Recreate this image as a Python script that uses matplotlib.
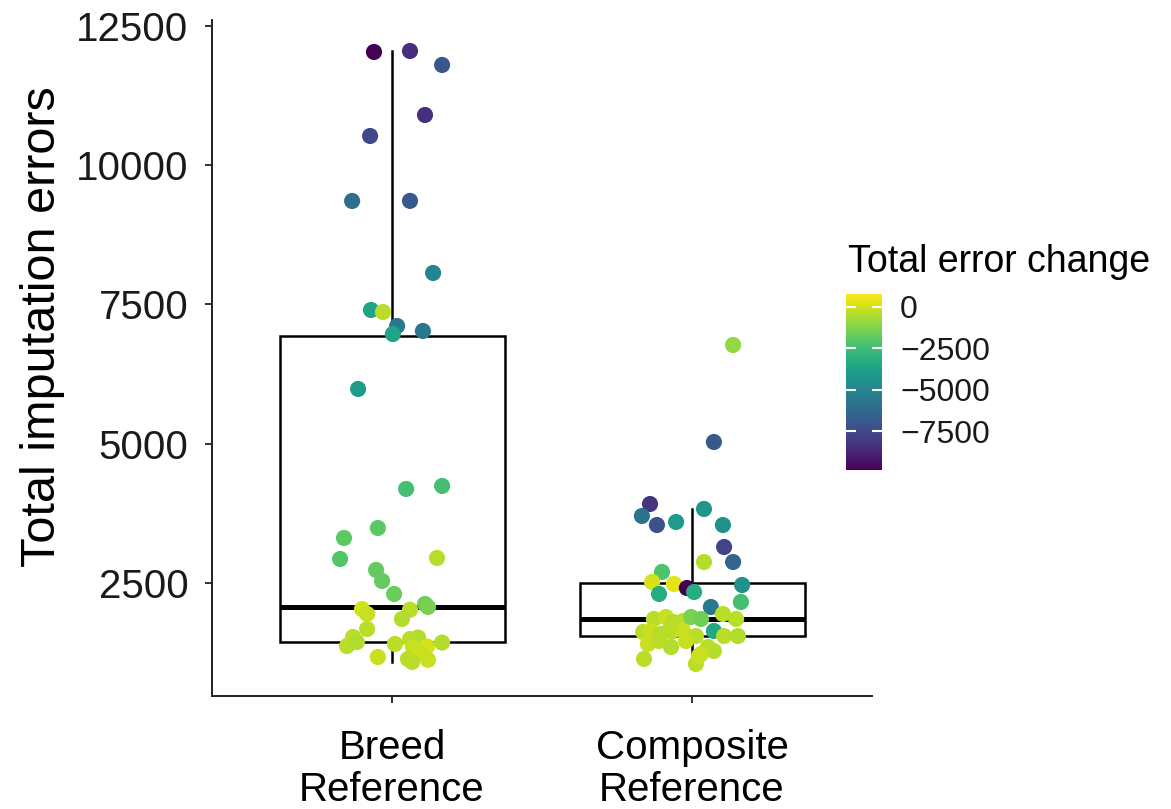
import matplotlib
matplotlib.use("Agg")
import matplotlib.pyplot as plt
from matplotlib.colors import Normalize
import numpy as np

plt.rcParams['font.family'] = ['Liberation Sans', 'DejaVu Sans']

# ---- data -------------------------------------------------------------
categories = ["Breed\nReference", "Composite\nReference"]

# box summaries (lower whisker, Q1, median, Q3, upper whisker)
box_whislo = [1080, 1030]
box_q1 = [1441, 1554]
box_med = [2070, 1854]
box_q3 = [6940, 2500]
box_whishi = [12050, 3830]

# Breed reference runs
breed_errors = [12033, 12051, 11800, 10902, 10525, 9358, 9360, 8066, 7401, 7365,
                7114, 6970, 7024, 5983, 4188, 4242, 3487, 3308, 2931, 2949,
                2734, 2536, 2303, 2123, 2069, 2033, 1943, 2020, 1854, 1674,
                1530, 1369, 1441, 1171, 1405, 1494, 1520, 1351, 1136, 1360,
                1120, 1430, 1261, 1082]
breed_change = [-9850, -8400, -6980, -8360, -7510, -6020, -6870, -5070, -3680, -300,
                -5600, -3680, -5600, -4000, -2410, -2410, -1880, -1880, -2090, -400,
                -1770, -1770, -1660, -1560, -1350, 50, -100, -300, -500, -300,
                -300, -300, -450, -100, -300, -350, -450, -100, -300, 80,
                -100, -450, -100, -300]
breed_jitter = [-0.060, 0.060, 0.167, 0.110, -0.073, -0.133, 0.060, 0.137, -0.070, -0.030,
                0.017, 0.003, 0.103, -0.113, 0.047, 0.167, -0.047, -0.160, -0.173, 0.150,
                -0.053, -0.033, 0.007, 0.110, 0.120, -0.100, -0.083, 0.060, 0.033, -0.083,
                -0.130, -0.150, -0.117, -0.047, 0.010, 0.060, 0.087, 0.070, 0.053, 0.117,
                0.120, 0.167, 0.093, 0.067]

# Composite reference runs
comp_errors = [6773, 5031, 3918, 3703, 3541, 3595, 3829, 3541, 3146, 2877,
               2877, 2698, 2518, 2482, 2410, 2464, 2338, 2303, 2159, 2069,
               1943, 1854, 1638, 1854, 1890, 1800, 1818, 1890, 1854, 1620,
               1638, 1584, 1620, 1638, 1548, 1548, 1548, 1405, 1458, 1351,
               1458, 1351, 1279, 1225, 1136, 1046, 1189, 1728]
comp_change = [-950, -6870, -8250, -5810, -7190, -4000, -4320, -4530, -7720, -6450,
               -400, -2200, 150, 350, -9850, -4530, -3260, -3260, -2410, -5600,
               -350, -350, -3470, -300, -100, -450, -300, -1350, -1560, -300,
               -100, -450, -300, -100, -350, -300, -450, -100, -300, -450,
               -100, -300, -450, -100, -300, -300, -100, -300]
comp_jitter = [0.137, 0.073, -0.140, -0.167, -0.117, -0.053, 0.040, 0.103, 0.107, 0.137,
               0.040, -0.100, -0.133, -0.060, -0.017, 0.167, 0.007, -0.110, 0.163, 0.063,
               0.103, 0.147, 0.073, -0.127, -0.087, -0.063, -0.030, -0.003, 0.030, -0.163,
               -0.137, -0.103, -0.070, -0.030, 0.013, 0.107, 0.153, -0.147, -0.110, -0.070,
               -0.020, 0.053, 0.073, 0.030, -0.160, 0.013, 0.023, -0.070]

change_min, change_max = -9850, 780
y_ticks = [2500, 5000, 7500, 10000, 12500]
cbar_ticks = [0, -2500, -5000, -7500]

# ---- figure -----------------------------------------------------------
W, H = 1171, 809
fig = plt.figure(figsize=(W / 100, H / 100), dpi=100)
ax = fig.add_axes([212 / W, 1 - 695.5 / H, 660 / W, (695.5 - 20.4) / H])

stats = []
for i in range(len(categories)):
    stats.append(dict(whislo=box_whislo[i], q1=box_q1[i], med=box_med[i],
                      q3=box_q3[i], whishi=box_whishi[i], fliers=[]))

ax.bxp(stats, positions=[1, 2], widths=0.75, showcaps=False, showfliers=False,
       patch_artist=True,
       boxprops=dict(facecolor='white', edgecolor='black', linewidth=1.8),
       whiskerprops=dict(color='black', linewidth=1.8),
       medianprops=dict(color='black', linewidth=3.6, solid_capstyle='butt'),
       zorder=1)

norm = Normalize(vmin=change_min, vmax=change_max)
xs = np.concatenate([1 + np.array(breed_jitter), 2 + np.array(comp_jitter)])
ys = np.concatenate([breed_errors, comp_errors])
cs = np.concatenate([breed_change, comp_change])
sc = ax.scatter(xs, ys, c=cs, cmap='viridis', norm=norm, s=135,
                linewidths=0, zorder=3)

ax.set_xlim(0.4, 2.6)
ax.set_ylim(480, 12600)
ax.set_xticks([1, 2])
ax.set_xticklabels(categories)
ax.set_yticks(y_ticks)
ax.set_yticklabels([str(t) for t in y_ticks])
for s in ['top', 'right']:
    ax.spines[s].set_visible(False)
for s in ['left', 'bottom']:
    ax.spines[s].set_linewidth(1.4)
    ax.spines[s].set_color('#222222')
ax.tick_params(axis='both', length=5, width=1.3, color='#222222')
ax.tick_params(axis='y', labelsize=29, pad=12, labelcolor='#1a1a1a')
ax.tick_params(axis='x', labelsize=29, pad=19, labelcolor='black')
for lbl in ax.get_xticklabels():
    lbl.set_linespacing(1.15)

fig.text(43 / W, 1 - 327 / H, "Total imputation errors", rotation=90,
         ha='center', va='center', fontsize=35)

# ---- colour bar -------------------------------------------------------
cax = fig.add_axes([846 / W, 1 - 470 / H, 36 / W, 176 / H])
cb = fig.colorbar(sc, cax=cax)
cb.outline.set_visible(False)
cb.set_ticks(cbar_ticks)
cb.set_ticklabels([f"{t}".replace('-', '\u2212') for t in cbar_ticks])
cax.tick_params(direction='in', color='white', length=7, width=1.5,
                left=True, right=True, labelsize=23, pad=13, labelcolor='#1a1a1a')
fig.text(848 / W, 1 - 272 / H, "Total error change", ha='left',
         va='baseline', fontsize=27)

fig.savefig("out.png", dpi=100)
